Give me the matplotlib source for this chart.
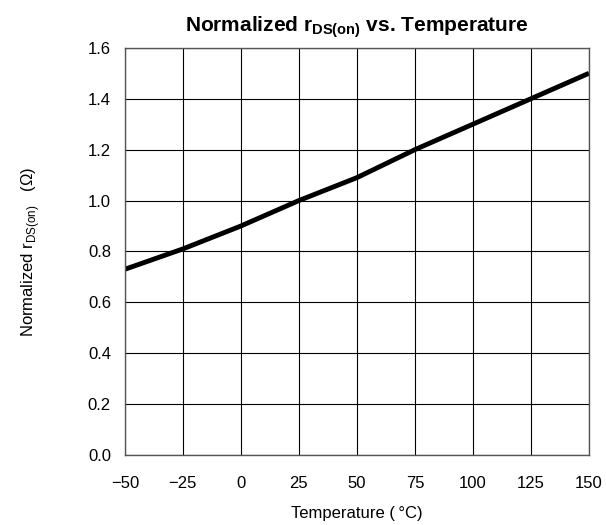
import matplotlib
matplotlib.use('Agg')
import matplotlib.pyplot as plt

plt.rcParams['font.family'] = ['Liberation Sans', 'DejaVu Sans']
plt.rcParams['mathtext.fontset'] = 'custom'
plt.rcParams['mathtext.rm'] = 'Liberation Sans'
plt.rcParams['mathtext.bf'] = 'Liberation Sans:bold'

temp = [-50, -25, 0, 25, 50, 75, 100, 125, 150]
rds = [0.73, 0.81, 0.90, 1.00, 1.09, 1.20, 1.30, 1.40, 1.50]

xticks = [-50, -25, 0, 25, 50, 75, 100, 125, 150]
xlabels = ['\u221250', '\u221225', '0', '25', '50', '75', '100', '125', '150']
yticks = [0.0, 0.2, 0.4, 0.6, 0.8, 1.0, 1.2, 1.4, 1.6]

fig = plt.figure(figsize=(6.06, 5.25), dpi=100)
ax = fig.add_axes([0.206, 0.133, 0.766, 0.776])

ax.plot(temp, rds, color='black', lw=3.5, solid_capstyle='butt')

ax.set_xlim(-50, 150)
ax.set_ylim(0, 1.6)
ax.set_xticks(xticks)
ax.set_xticklabels(xlabels)
ax.set_yticks(yticks)
ax.set_yticklabels(['%.1f' % v for v in yticks])
ax.grid(True, color='black', lw=0.8)
ax.tick_params(axis='x', length=0, labelsize=12, pad=15)
ax.tick_params(axis='y', length=0, labelsize=12, pad=10)
for s in ax.spines.values():
    s.set_linewidth(1.0)
    s.set_color('#555555')

ax.set_title(r'Normalized r$_{\mathbf{DS(on)}}$ vs. Temperature',
             fontsize=15, fontweight='bold', pad=12)
ax.set_xlabel('Temperature (\u2009\u00b0C)', fontsize=12, labelpad=11)
ax.set_ylabel('Normalized r$_{\\mathrm{DS(on)}}$   (\u03a9)', fontsize=12, labelpad=33)

fig.savefig('out.png', dpi=100)
